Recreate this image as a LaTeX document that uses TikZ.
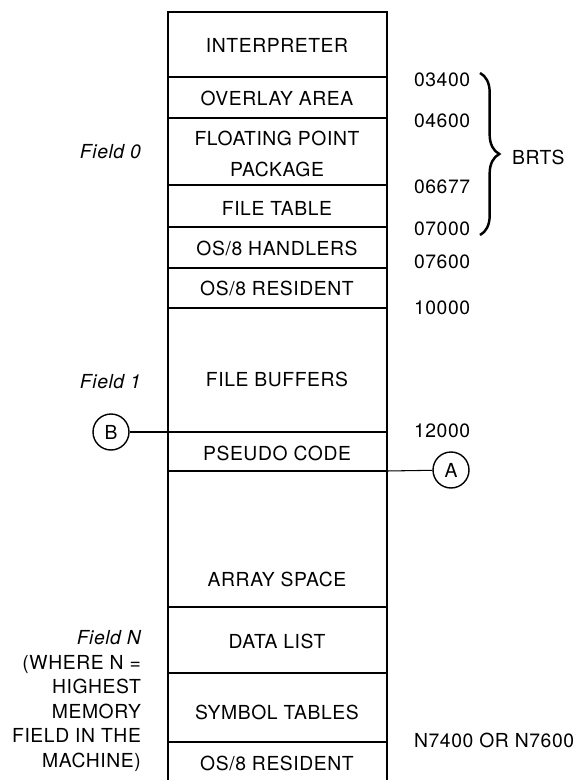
\documentclass[tikz,border=0pt]{standalone}
\usepackage{fontspec}
\setmainfont[LetterSpace=3]{TeX Gyre Heros}
\usepackage{tikz}
\usetikzlibrary{decorations.pathreplacing}

\begin{document}
\begin{tikzpicture}[x=0.02cm,y=-0.02cm,
  lbl/.style={font=\fontsize{11}{12}\selectfont,inner sep=1pt},
  addr/.style={lbl,anchor=west},
  fld/.style={anchor=east,inner sep=1pt,font=\fontsize{11}{14}\selectfont},
  tag/.style={draw,circle,line width=0.8pt,minimum size=0.72cm,inner sep=0pt,font=\fontsize{11}{12}\selectfont},
  wall/.style={line width=1.2pt}]
\useasboundingbox (0,0) rectangle (576,780);
\draw[wall](168,780)--(168,12)--(387,12)--(387,780);
\foreach \y in {77,118,185,227,268,308,432,471,607,673,742}
  \draw[wall](168,\y)--(387,\y);

\node[lbl](interp) at (277,45){INTERPRETER};
\node[lbl](overlay) at (277,98){OVERLAY AREA};
\node[lbl,align=center,font=\fontsize{11}{17.5}\selectfont](fpp) at (277,154){FLOATING POINT\\PACKAGE};
\node[lbl](ftable) at (277,208){FILE TABLE};
\node[lbl](handlers) at (277,248){OS/8 HANDLERS};
\node[lbl](res0) at (277,288){OS/8 RESIDENT};
\node[lbl](buffers) at (277,379){FILE BUFFERS};
\node[lbl](pseudo) at (277,453){PSEUDO CODE};
\node[lbl](array) at (277,579){ARRAY SPACE};
\node[lbl](data) at (277,641){DATA LIST};
\node[lbl](symbols) at (277,712){SYMBOL TABLES};
\node[lbl](resN) at (277,763){OS/8 RESIDENT};

\node[addr](a03400) at (412,80){03400};
\node[addr](a04600) at (412,121){04600};
\node[addr](a06677) at (412,187){06677};
\node[addr](a07000) at (412,229){07000};
\node[addr](a07600) at (412,262){07600};
\node[addr](a10000) at (412,308){10000};
\node[addr](a12000) at (412,431){12000};
\node[addr](aN) at (412,740){N7400 OR N7600};

\draw[decorate,decoration={brace,amplitude=11pt},line width=1.4pt](480,73)--(480,235);
\node[addr](brts) at (510,157){BRTS};

\node[fld](field0) at (143,152){\itshape Field 0};
\node[fld](field1) at (143,382){\itshape Field 1};
\node[fld,align=right](fieldN) at (143,701){\itshape Field N\\(WHERE N =\\HIGHEST\\MEMORY\\FIELD IN THE\\MACHINE)};

\node[tag](B) at (111,432){B};
\node[tag](A) at (451,470){A};
\coordinate (bufB) at (168,432);
\coordinate (codeA) at (387,471);
\draw[line width=0.6pt](B)--(bufB);
\draw[line width=0.6pt](codeA)--(A);
\end{tikzpicture}
\end{document}
